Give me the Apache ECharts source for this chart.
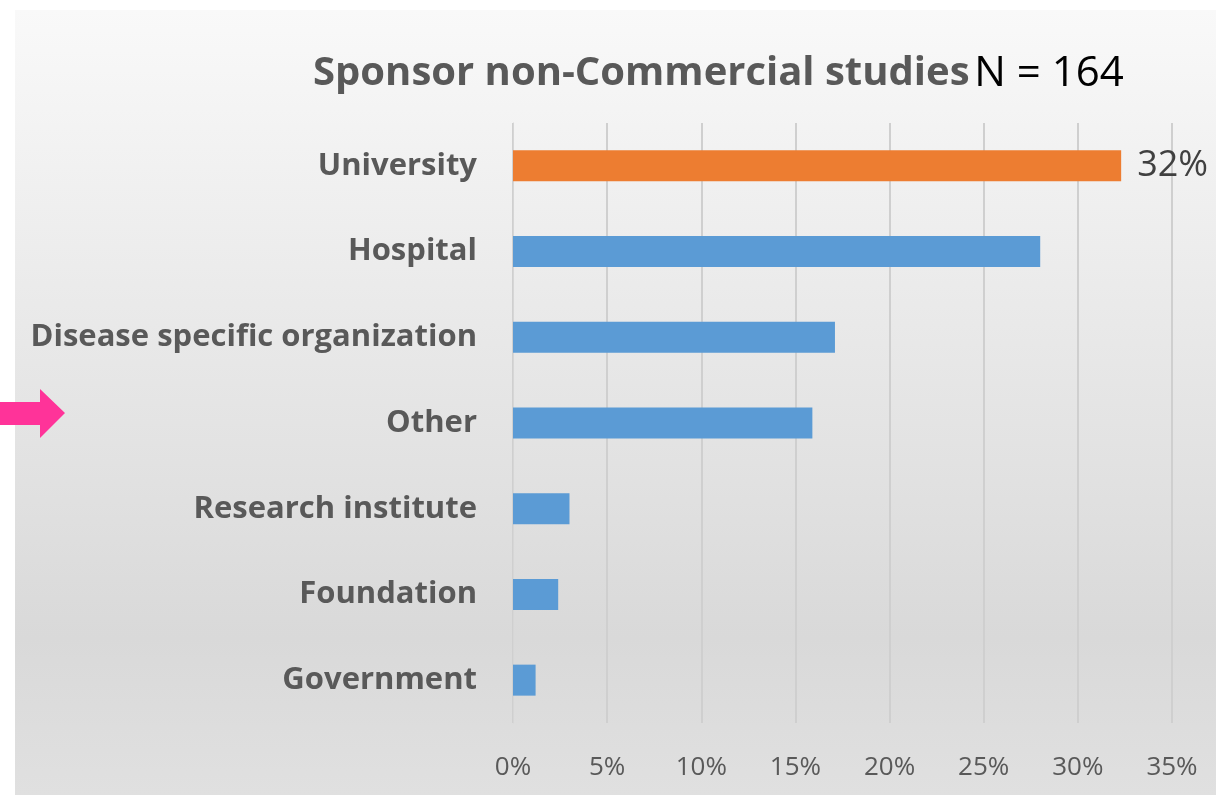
<!DOCTYPE html>
<html>
<head>
<meta charset="utf-8">
<script src="https://cdn.jsdelivr.net/npm/echarts@6/dist/echarts.min.js"></script>
<style>
  html, body { margin: 0; padding: 0; background: #fff; }
  #chart { width: 1216px; height: 795px; }
</style>
</head>
<body>
<div id="chart"></div>
<script>
// sponsor categories, top to bottom
const categories = [
  'University',
  'Hospital',
  'Disease specific organization',
  'Other',
  'Research institute',
  'Foundation',
  'Government'
]
// share of the 164 studies, in percent
const shares = [32.3, 28.0, 17.1, 15.9, 3.0, 2.4, 1.2]
const highlight = 'University'
const tickLabels = ['0%', '5%', '10%', '15%', '20%', '25%', '30%', '35%']

const myChart = echarts.init(document.getElementById('chart'))

const option = {
  animation: false,
  textStyle: { fontFamily: 'Open Sans' },
  title: {
    left: 308,
    top: 48,
    text: '{b|Sponsor non-Commercial studies} {n|N = 164}',
    textStyle: {
      rich: {
        b: { fontSize: 40, fontWeight: 'bold', color: '#595959', fontFamily: 'Open Sans' },
        n: { fontSize: 42, fontWeight: 'normal', color: '#000', fontFamily: 'Open Sans' }
      }
    }
  },
  graphic: [
    // panel background
    {
      type: 'rect',
      z: -10,
      shape: { x: 15, y: 10, width: 1201, height: 785 },
      style: {
        fill: {
          type: 'linear', x: 0, y: 0, x2: 0, y2: 1,
          colorStops: [
            { offset: 0, color: '#f9f9f9' },
            { offset: 0.8, color: '#d9d9d9' },
            { offset: 1, color: '#e0e0e0' }
          ]
        }
      }
    },
    // pink arrow pointing at "Other"
    {
      type: 'polygon',
      z: 10,
      shape: {
        points: [[0, 402], [40, 402], [40, 389], [65, 413], [40, 438], [40, 425], [0, 425]]
      },
      style: { fill: '#ff3399' }
    }
  ],
  grid: {
    left: 513,
    right: 44,
    top: 123,
    bottom: 72,
    containLabel: false
  },
  xAxis: {
    type: 'value',
    min: 0,
    max: 35,
    interval: 5,
    axisLine: { show: false },
    axisTick: { show: false },
    axisLabel: {
      margin: 32,
      fontSize: 26,
      color: '#595959',
      formatter: (v) => tickLabels[v / 5]
    },
    splitLine: { lineStyle: { color: '#cfcfcf', width: 2 } }
  },
  yAxis: {
    type: 'category',
    inverse: true,
    data: categories,
    axisLine: { lineStyle: { color: '#d6d6d6', width: 1 } },
    axisTick: { show: false },
    axisLabel: {
      margin: 36,
      fontSize: 31,
      fontWeight: 'bold',
      color: '#595959',
      padding: [4, 0, 0, 0]
    }
  },
  series: [
    {
      type: 'bar',
      barWidth: 31,
      data: shares.map((v, i) => ({
        value: v,
        itemStyle: { color: categories[i] === highlight ? '#ed7d31' : '#5b9bd5' },
        label: {
          show: categories[i] === highlight,
          position: 'right',
          distance: 16,
          fontSize: 36,
          color: '#404040',
          formatter: (p) => Math.round(p.value) + '%'
        }
      }))
    }
  ]
}

myChart.setOption(option)
</script>
</body>
</html>
